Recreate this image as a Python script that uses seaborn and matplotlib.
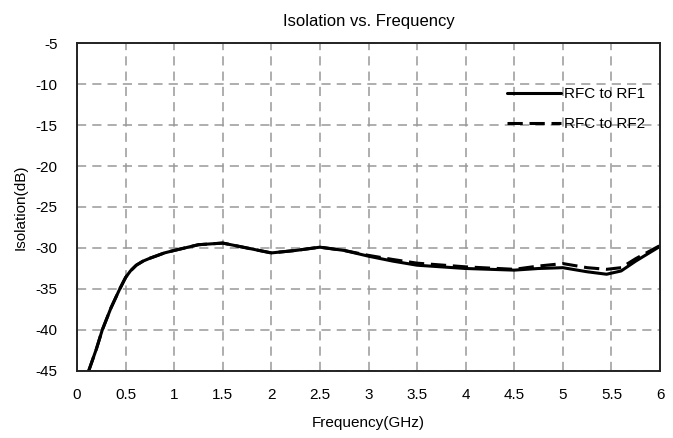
import numpy as np
import pandas as pd
import seaborn as sns
import matplotlib
matplotlib.use("Agg")
import matplotlib.pyplot as plt

# данные
freq = [0.12, 0.2, 0.26, 0.35, 0.44, 0.5, 0.55, 0.61, 0.68, 0.75, 0.82, 0.9, 1.0, 1.25, 1.5, 1.75, 2.0,
        2.25, 2.5, 2.75, 3.0, 3.25, 3.5, 4.0, 4.5, 4.75, 5.0, 5.25, 5.45, 5.6, 5.75, 6.0]
rf1 = [-45, -42.3, -40, -37.3, -35, -33.6, -32.8, -32.1, -31.6, -31.25, -30.95, -30.6, -30.3, -29.6, -29.4,
       -30.0, -30.6, -30.3, -29.9, -30.3, -31.0, -31.6, -32.1, -32.5, -32.7, -32.5, -32.4, -32.9, -33.2,
       -32.8, -31.6, -29.8]
rf2 = [-45, -42.3, -40, -37.3, -35, -33.6, -32.8, -32.1, -31.6, -31.25, -30.95, -30.6, -30.3, -29.6, -29.4,
       -30.0, -30.6, -30.3, -29.9, -30.3, -30.9, -31.4, -31.85, -32.3, -32.6, -32.2, -31.9, -32.4, -32.6,
       -32.4, -31.3, -29.7]
series = ["RFC to RF1", "RFC to RF2"]
x_ticks = [0, 0.5, 1, 1.5, 2, 2.5, 3, 3.5, 4, 4.5, 5, 5.5, 6]
y_ticks = [-45, -40, -35, -30, -25, -20, -15, -10, -5]

df = pd.concat([
    pd.DataFrame({"freq": freq, "iso": rf1, "path": series[0]}),
    pd.DataFrame({"freq": freq, "iso": rf2, "path": series[1]}),
])

sns.set_style("white")
plt.rcParams['font.family'] = ['Liberation Sans', 'DejaVu Sans']
plt.rcParams['text.color'] = 'black'
plt.rcParams['axes.labelcolor'] = 'black'
plt.rcParams['xtick.color'] = 'black'
plt.rcParams['ytick.color'] = 'black'

fig = plt.figure(figsize=(6.73, 4.38), dpi=100)
ax = fig.add_axes([0.1144, 0.153, 0.8663, 0.7488])

sns.lineplot(data=df, x="freq", y="iso", hue="path", style="path",
             palette=["black", "black"], dashes={series[0]: "", series[1]: (5, 2.2)},
             linewidth=2.2, ax=ax, sort=False)

ax.set_xlim(0, 6)
ax.set_ylim(-45, -5)
ax.set_xticks(x_ticks)
ax.set_xticklabels([f"{t:g}" for t in x_ticks])
ax.set_yticks(y_ticks)
ax.set_yticklabels([f"{t:g}" for t in y_ticks])
ax.grid(True, color="#999999", linestyle=(0, (6, 4)), linewidth=1.1)
ax.tick_params(axis="both", length=0, labelsize=11)
ax.tick_params(axis="x", pad=12)
ax.tick_params(axis="y", pad=14)
for s in ax.spines.values():
    s.set_color("#222222")
    s.set_linewidth(1.4)

ax.set_xlabel("Frequency(GHz)", fontsize=11, labelpad=10)
ax.set_ylabel("Isolation(dB)", fontsize=11, labelpad=6)
ax.set_title("Isolation vs. Frequency", fontsize=12, pad=12)

leg = ax.legend(loc="upper right", bbox_to_anchor=(0.99, 0.893), frameon=False,
                fontsize=11, labelspacing=1.05, handlelength=3.5, handletextpad=0.2,
                borderaxespad=0.2)

fig.savefig("out.png", dpi=100)
